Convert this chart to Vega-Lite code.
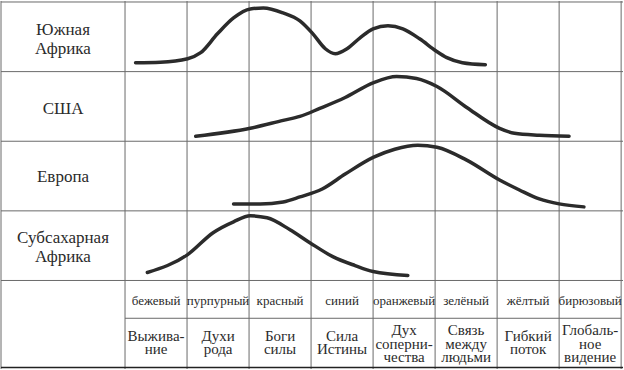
{
  "$schema": "https://vega.github.io/schema/vega-lite/v6.json",
  "width": 624,
  "height": 370,
  "autosize": {"type": "fit", "contains": "padding"},
  "padding": 0,
  "background": "white",
  "config": {"view": {"stroke": null}},
  "datasets": {
    "hlines": [{"y": 1}, {"y": 71}, {"y": 141}, {"y": 211}, {"y": 281}],
    "vlines": [{"x": -2}, {"x": 0}, {"x": 1}, {"x": 2}, {"x": 3}, {"x": 4}, {"x": 5}, {"x": 6}, {"x": 7}, {"x": 8}],
    "regions": [
      {"label": "Южная\nАфрика", "line1": 34.3},
      {"label": "США", "line1": 113.3},
      {"label": "Европа", "line1": 182},
      {"label": "Субсахарная\nАфрика", "line1": 243}
    ],
    "stages": [
      {"k": 0.5, "color": "бежевый", "meme": "Выжива-\nние", "lines": 2},
      {"k": 1.5, "color": "пурпурный", "meme": "Духи\nрода", "lines": 2},
      {"k": 2.5, "color": "красный", "meme": "Боги\nсилы", "lines": 2},
      {"k": 3.5, "color": "синий", "meme": "Сила\nИстины", "lines": 2},
      {"k": 4.5, "color": "оранжевый", "meme": "Дух\nсоперни-\nчества", "lines": 3},
      {"k": 5.5, "color": "зелёный", "meme": "Связь\nмежду\nлюдьми", "lines": 3},
      {"k": 6.5, "color": "жёлтый", "meme": "Гибкий\nпоток", "lines": 2},
      {"k": 7.5, "color": "бирюзовый", "meme": "Глобаль-\nное\nвидение", "lines": 3}
    ],
    "curves": [
      {"region": "Южная Африка", "stage": 0.17, "level": 62},
      {"region": "Южная Африка", "stage": 0.57, "level": 61.5},
      {"region": "Южная Африка", "stage": 1.01, "level": 58},
      {"region": "Южная Африка", "stage": 1.22, "level": 52},
      {"region": "Южная Африка", "stage": 1.49, "level": 33},
      {"region": "Южная Африка", "stage": 1.75, "level": 17},
      {"region": "Южная Африка", "stage": 2.02, "level": 8},
      {"region": "Южная Африка", "stage": 2.23, "level": 7},
      {"region": "Южная Африка", "stage": 2.55, "level": 12},
      {"region": "Южная Африка", "stage": 2.82, "level": 20},
      {"region": "Южная Африка", "stage": 3.03, "level": 33},
      {"region": "Южная Африка", "stage": 3.23, "level": 48},
      {"region": "Южная Африка", "stage": 3.39, "level": 53},
      {"region": "Южная Африка", "stage": 3.58, "level": 48},
      {"region": "Южная Африка", "stage": 3.79, "level": 37},
      {"region": "Южная Африка", "stage": 4.0, "level": 28},
      {"region": "Южная Африка", "stage": 4.24, "level": 25},
      {"region": "Южная Африка", "stage": 4.48, "level": 28},
      {"region": "Южная Африка", "stage": 4.75, "level": 38},
      {"region": "Южная Африка", "stage": 5.01, "level": 50},
      {"region": "Южная Африка", "stage": 5.19, "level": 57},
      {"region": "Южная Африка", "stage": 5.44, "level": 62},
      {"region": "Южная Африка", "stage": 5.81, "level": 64},
      {"region": "США", "stage": 1.14, "level": 136},
      {"region": "США", "stage": 2.02, "level": 128},
      {"region": "США", "stage": 2.55, "level": 120},
      {"region": "США", "stage": 2.82, "level": 116},
      {"region": "США", "stage": 3.14, "level": 108},
      {"region": "США", "stage": 3.55, "level": 97},
      {"region": "США", "stage": 4.01, "level": 82},
      {"region": "США", "stage": 4.38, "level": 76},
      {"region": "США", "stage": 4.7, "level": 78},
      {"region": "США", "stage": 5.03, "level": 86},
      {"region": "США", "stage": 5.51, "level": 107},
      {"region": "США", "stage": 6.04, "level": 128},
      {"region": "США", "stage": 6.28, "level": 133},
      {"region": "США", "stage": 6.68, "level": 135},
      {"region": "США", "stage": 7.16, "level": 136},
      {"region": "Европа", "stage": 1.75, "level": 204},
      {"region": "Европа", "stage": 2.18, "level": 204},
      {"region": "Европа", "stage": 2.55, "level": 202},
      {"region": "Европа", "stage": 2.82, "level": 197},
      {"region": "Европа", "stage": 3.18, "level": 189},
      {"region": "Европа", "stage": 3.55, "level": 174},
      {"region": "Европа", "stage": 4.01, "level": 157},
      {"region": "Европа", "stage": 4.35, "level": 149},
      {"region": "Европа", "stage": 4.72, "level": 145},
      {"region": "Европа", "stage": 5.03, "level": 147},
      {"region": "Европа", "stage": 5.51, "level": 160},
      {"region": "Европа", "stage": 6.04, "level": 180},
      {"region": "Европа", "stage": 6.36, "level": 190},
      {"region": "Европа", "stage": 6.68, "level": 199},
      {"region": "Европа", "stage": 7.0, "level": 204},
      {"region": "Европа", "stage": 7.4, "level": 207},
      {"region": "Субсахарная Африка", "stage": 0.36, "level": 273},
      {"region": "Субсахарная Африка", "stage": 1.01, "level": 255},
      {"region": "Субсахарная Африка", "stage": 1.42, "level": 233},
      {"region": "Субсахарная Африка", "stage": 1.75, "level": 222},
      {"region": "Субсахарная Африка", "stage": 2.02, "level": 216},
      {"region": "Субсахарная Африка", "stage": 2.29, "level": 218},
      {"region": "Субсахарная Африка", "stage": 2.66, "level": 230},
      {"region": "Субсахарная Африка", "stage": 2.98, "level": 243},
      {"region": "Субсахарная Африка", "stage": 3.35, "level": 257},
      {"region": "Субсахарная Африка", "stage": 3.71, "level": 266},
      {"region": "Субсахарная Африка", "stage": 4.0, "level": 272},
      {"region": "Субсахарная Африка", "stage": 4.56, "level": 276}
    ]
  },
  "layer": [
    {
      "data": {"name": "hlines"},
      "mark": {"type": "rule", "stroke": "#6a6a6a", "strokeWidth": 1},
      "encoding": {
        "y": {"field": "y", "type": "quantitative", "scale": {"domain": [0, 370], "reverse": true, "nice": false, "zero": false}, "axis": null}
      }
    },
    {
      "data": {"name": "vlines"},
      "mark": {"type": "rule", "stroke": "#6a6a6a", "strokeWidth": 1},
      "encoding": {
        "x": {"field": "x", "type": "quantitative", "scale": {"domain": [-2, 8.03], "nice": false, "zero": false}, "axis": null}
      }
    },
    {
      "data": {"values": [{"from": 0, "to": 8, "y": 319}]},
      "mark": {"type": "rule", "stroke": "#6a6a6a", "strokeWidth": 1},
      "encoding": {
        "x": {"field": "from", "type": "quantitative", "scale": {"domain": [-2, 8.03], "nice": false, "zero": false}, "axis": null},
        "x2": {"field": "to"},
        "y": {"field": "y", "type": "quantitative", "scale": {"domain": [0, 370], "reverse": true, "nice": false, "zero": false}, "axis": null}
      }
    },
    {
      "data": {"values": [{"y": 368.5}]},
      "mark": {"type": "rule", "stroke": "#222", "strokeWidth": 1.5},
      "encoding": {
        "y": {"field": "y", "type": "quantitative", "scale": {"domain": [0, 370], "reverse": true, "nice": false, "zero": false}, "axis": null}
      }
    },
    {
      "data": {"name": "curves"},
      "mark": {"type": "line", "interpolate": "monotone", "stroke": "#2b2b2b", "strokeWidth": 3.5, "strokeCap": "round"},
      "encoding": {
        "x": {"field": "stage", "type": "quantitative", "scale": {"domain": [-2, 8.03], "nice": false, "zero": false}, "axis": null},
        "y": {"field": "level", "type": "quantitative", "scale": {"domain": [0, 370], "reverse": true, "nice": false, "zero": false}, "axis": null},
        "detail": {"field": "region"}
      }
    },
    {
      "data": {"name": "regions"},
      "mark": {"type": "text", "font": "Liberation Serif, DejaVu Serif, serif", "fontSize": 17, "fill": "#2b2b2b", "lineBreak": "\n", "lineHeight": 19, "align": "center", "baseline": "alphabetic"},
      "encoding": {
        "x": {"datum": -1, "type": "quantitative", "scale": {"domain": [-2, 8.03], "nice": false, "zero": false}, "axis": null},
        "y": {"field": "line1", "type": "quantitative", "scale": {"domain": [0, 370], "reverse": true, "nice": false, "zero": false}, "axis": null},
        "text": {"field": "label"}
      }
    },
    {
      "data": {"name": "stages"},
      "mark": {"type": "text", "font": "Liberation Serif, DejaVu Serif, serif", "fontSize": 13, "fill": "#2b2b2b", "align": "center", "baseline": "alphabetic"},
      "encoding": {
        "x": {"field": "k", "type": "quantitative", "scale": {"domain": [-2, 8.03], "nice": false, "zero": false}, "axis": null},
        "y": {"datum": 306, "type": "quantitative", "scale": {"domain": [0, 370], "reverse": true, "nice": false, "zero": false}, "axis": null},
        "text": {"field": "color"}
      }
    },
    {
      "data": {"name": "stages"},
      "transform": [{"filter": "datum.lines == 2"}],
      "mark": {"type": "text", "font": "Liberation Serif, DejaVu Serif, serif", "fontSize": 15, "fill": "#2b2b2b", "lineBreak": "\n", "lineHeight": 13.5, "align": "center", "baseline": "alphabetic"},
      "encoding": {
        "x": {"field": "k", "type": "quantitative", "scale": {"domain": [-2, 8.03], "nice": false, "zero": false}, "axis": null},
        "y": {"datum": 341.5, "type": "quantitative", "scale": {"domain": [0, 370], "reverse": true, "nice": false, "zero": false}, "axis": null},
        "text": {"field": "meme"}
      }
    },
    {
      "data": {"name": "stages"},
      "transform": [{"filter": "datum.lines == 3"}],
      "mark": {"type": "text", "font": "Liberation Serif, DejaVu Serif, serif", "fontSize": 15, "fill": "#2b2b2b", "lineBreak": "\n", "lineHeight": 13.5, "align": "center", "baseline": "alphabetic"},
      "encoding": {
        "x": {"field": "k", "type": "quantitative", "scale": {"domain": [-2, 8.03], "nice": false, "zero": false}, "axis": null},
        "y": {"datum": 336.3, "type": "quantitative", "scale": {"domain": [0, 370], "reverse": true, "nice": false, "zero": false}, "axis": null},
        "text": {"field": "meme"}
      }
    }
  ]
}
